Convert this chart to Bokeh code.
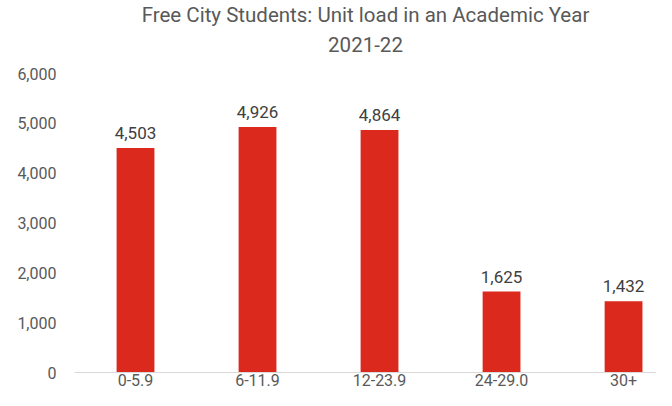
from bokeh.plotting import figure
from bokeh.models import ColumnDataSource, LabelSet, Title, Range1d, FixedTicker, NumeralTickFormatter
from bokeh.core.properties import value
from bokeh.embed import file_html
from bokeh.resources import INLINE

categories = ["0-5.9", "6-11.9", "12-23.9", "24-29.0", "30+"]
students = [4503, 4926, 4864, 1625, 1432]
y_ticks = [0, 1000, 2000, 3000, 4000, 5000, 6000]
title_line1 = "Free City Students: Unit load in an Academic Year"
title_line2 = "2021-22"

FONT = "Roboto"
xpos = list(range(len(categories)))
src = ColumnDataSource(dict(
    x=xpos,
    y=students,
    lab=[f"{v:,}" for v in students],
))

p = figure(frame_width=582, frame_height=299, output_backend="svg", toolbar_location=None,
           x_range=Range1d(-0.5, 4.27), y_range=Range1d(0, 6000),
           min_border_left=74, min_border_right=0, min_border_bottom=0, min_border_top=0)
p.outline_line_color = None
p.grid.visible = False

p.vbar(x="x", top="y", width=0.31, source=src, fill_color="#DC291E", line_color=None)

labels = LabelSet(x="x", y="y", text="lab", source=src, text_align="center",
                  text_baseline="bottom", y_offset=9, text_font=value(FONT),
                  text_font_size=value("17px"), text_color=value("#404040"))
p.add_layout(labels)

p.yaxis.ticker = FixedTicker(ticks=y_ticks)
p.yaxis.formatter = NumeralTickFormatter(format="0,0")
p.yaxis.axis_line_color = None
p.yaxis.major_tick_line_color = None
p.yaxis.minor_tick_line_color = None
p.yaxis.major_tick_out = 0
p.yaxis.minor_tick_out = 0
p.yaxis.major_label_standoff = 18
p.yaxis.major_label_text_font = FONT
p.yaxis.major_label_text_font_size = "16px"
p.yaxis.major_label_text_color = "#595959"

p.xaxis.ticker = FixedTicker(ticks=xpos)
p.xaxis.major_label_overrides = {i: c for i, c in zip(xpos, categories)}
p.xaxis.axis_line_color = "#D9D9D9"
p.xaxis.axis_line_width = 1
p.xaxis.major_tick_line_color = None
p.xaxis.minor_tick_line_color = None
p.xaxis.major_tick_out = 0
p.xaxis.minor_tick_out = 0
p.xaxis.major_label_standoff = 1
p.xaxis.major_label_text_line_height = 1.0
p.xaxis.major_label_text_font = FONT
p.xaxis.major_label_text_font_size = "16px"
p.xaxis.major_label_text_color = "#595959"

# spacer panel between the title and the plot frame
p.add_layout(Title(text=" ", text_font_size="1px", text_line_height=1.0, standoff=11), "above")
p.add_layout(Title(text=title_line2, align="center", text_font=FONT, text_font_size="20.5px",
                   text_line_height=1.0, text_font_style="normal", text_color="#595959",
                   offset=-4, standoff=16), "above")
p.add_layout(Title(text=title_line1, align="center", text_font=FONT, text_font_size="20.5px",
                   text_line_height=1.0, text_font_style="normal", text_color="#595959",
                   offset=-4, standoff=0), "above")

open("out.html", "w").write(file_html(p, INLINE))
